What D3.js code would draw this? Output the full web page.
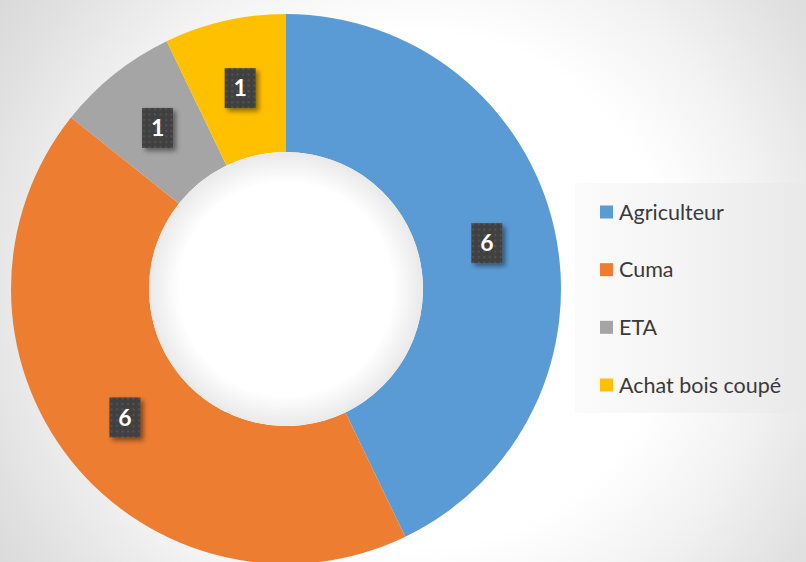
<!DOCTYPE html>
<html>
<head>
<meta charset="utf-8">
<script src="https://cdn.jsdelivr.net/npm/d3@7"></script>
<style>
  html, body { margin: 0; padding: 0; background: #fff; }
  svg { display: block; }
</style>
</head>
<body>
<svg id="chart" width="806" height="562"></svg>
<script>
// Data
const categories = ['Agriculteur', 'Cuma', 'ETA', 'Achat bois coupé'];
const values = [6, 6, 1, 1];
const colors = ['#5B9BD5', '#ED7D31', '#A5A5A5', '#FFC000'];

const W = 806, H = 562;
const cx = 286, cy = 289;
const outerR = 275, innerR = 137;

const svg = d3.select('#chart');
const defs = svg.append('defs');

// Background radial gradient
const bg = defs.append('radialGradient').attr('id', 'bg')
  .attr('gradientUnits', 'userSpaceOnUse')
  .attr('cx', 420).attr('cy', 290).attr('r', 510);
[[0, '#ffffff'], [0.5, '#ffffff'], [0.68, '#f3f3f3'], [0.88, '#e2e2e2'], [1, '#d9d9d9']]
  .forEach(([o, c]) => bg.append('stop').attr('offset', o).attr('stop-color', c));

// Hole gradient
const hole = defs.append('radialGradient').attr('id', 'hole');
[[0, '#ffffff'], [0.78, '#ffffff'], [1, '#e9e9e9']]
  .forEach(([o, c]) => hole.append('stop').attr('offset', o).attr('stop-color', c));

// Legend box gradient
const lg = defs.append('linearGradient').attr('id', 'legbg')
  .attr('x1', 0).attr('x2', 1).attr('y1', 0).attr('y2', 0);
[[0, '#fbfbfb'], [0.3, '#f7f7f7'], [1, '#e9e9e9']]
  .forEach(([o, c]) => lg.append('stop').attr('offset', o).attr('stop-color', c));

// Dotted pattern for label boxes
const pat = defs.append('pattern').attr('id', 'dots')
  .attr('patternUnits', 'userSpaceOnUse').attr('width', 5.5).attr('height', 5.5);
pat.append('rect').attr('width', 5.5).attr('height', 5.5).attr('fill', '#404040');
pat.append('rect').attr('x', 2).attr('y', 2).attr('width', 2).attr('height', 2).attr('fill', '#555555');

const shadow = defs.append('filter').attr('id', 'shadow')
  .attr('x', '-50%').attr('y', '-50%').attr('width', '200%').attr('height', '200%');
shadow.append('feDropShadow').attr('dx', 3).attr('dy', 3).attr('stdDeviation', 2.5)
  .attr('flood-color', '#000').attr('flood-opacity', 0.45);

svg.append('rect').attr('width', W).attr('height', H).attr('fill', 'url(#bg)');

// Donut
const pie = d3.pie().sort(null).value(d => d)(values);
const arc = d3.arc().innerRadius(innerR).outerRadius(outerR);
const labelArc = d3.arc().innerRadius((innerR + outerR) / 2).outerRadius((innerR + outerR) / 2);

const g = svg.append('g').attr('transform', `translate(${cx},${cy})`);
g.selectAll('path.slice')
  .data(pie)
  .enter().append('path')
  .attr('class', 'slice')
  .attr('d', arc)
  .attr('fill', (d, i) => colors[i]);

g.append('circle').attr('r', innerR).attr('fill', 'url(#hole)');

// Data labels
const lab = g.selectAll('g.lab')
  .data(pie)
  .enter().append('g')
  .attr('class', 'lab')
  .attr('transform', d => `translate(${labelArc.centroid(d)})`);

lab.append('rect')
  .attr('x', -15.5).attr('y', -20).attr('width', 31).attr('height', 40)
  .attr('fill', 'url(#dots)')
  .attr('filter', 'url(#shadow)');

lab.append('text')
  .attr('text-anchor', 'middle')
  .attr('dy', '0.36em')
  .attr('fill', '#ffffff')
  .attr('font-family', 'Lato, "Open Sans", sans-serif')
  .attr('font-weight', 'bold')
  .attr('font-size', '23px')
  .text(d => d.data);

// Legend
const legendX = 575, legendY = 183;
svg.append('rect')
  .attr('x', legendX).attr('y', legendY)
  .attr('width', W - legendX).attr('height', 230)
  .attr('fill', 'url(#legbg)');

const rowY = d3.scalePoint().domain(categories).range([212, 385]);

const item = svg.selectAll('g.leg')
  .data(categories)
  .enter().append('g')
  .attr('class', 'leg')
  .attr('transform', d => `translate(600,${rowY(d)})`);

item.append('rect')
  .attr('x', 0).attr('y', -6.5).attr('width', 13).attr('height', 13)
  .attr('fill', (d, i) => colors[i]);

item.append('text')
  .attr('x', 19)
  .attr('dy', '0.36em')
  .attr('fill', '#3a3a3a')
  .attr('font-family', 'Lato, "Open Sans", sans-serif')
  .attr('font-size', '21.5px')
  .text(d => d);
</script>
</body>
</html>
